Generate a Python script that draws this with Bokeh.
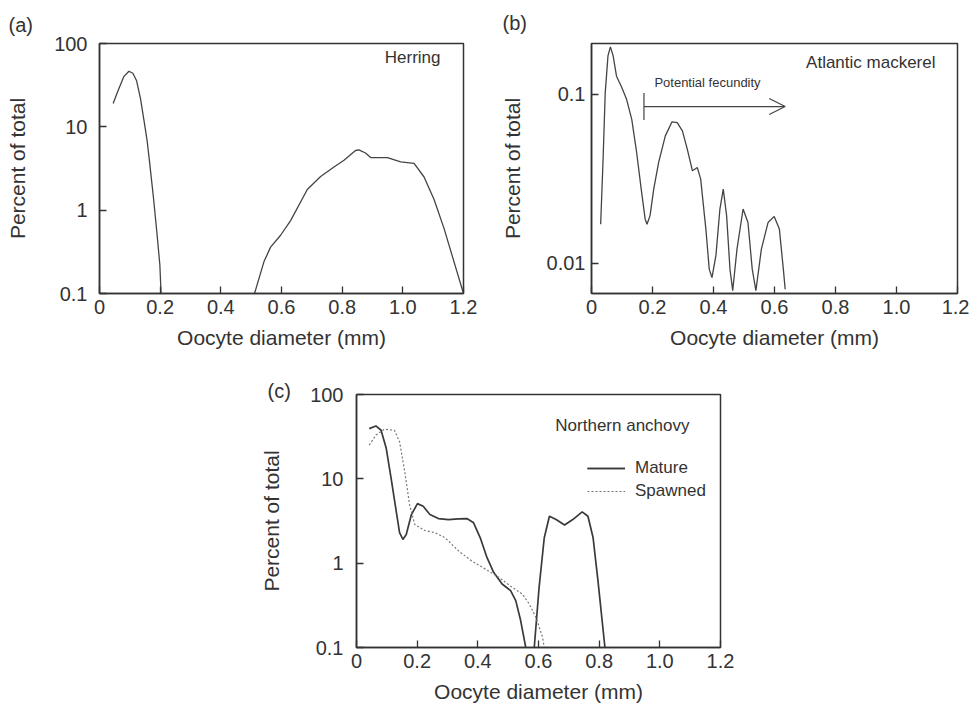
from bokeh.plotting import figure
from bokeh.models import (Label, Arrow, OpenHead, TeeHead, FixedTicker, Range1d,
                          Legend, LegendItem, Spacer, CustomJSTickFormatter)
from bokeh.layouts import column, row
from bokeh.embed import file_html
from bokeh.resources import INLINE

# ---------------- data ----------------
# (a) Herring
herring_x1 = [0.045, 0.06, 0.08, 0.097, 0.11, 0.122, 0.135, 0.15, 0.157, 0.165, 0.178, 0.19, 0.199, 0.203]
herring_y1 = [19.0, 26.5, 40.0, 46.5, 44.0, 36.0, 22.0, 10.0, 6.8, 3.8, 1.4, 0.5, 0.22, 0.1]
herring_x2 = [0.511, 0.542, 0.564, 0.597, 0.63, 0.685, 0.729, 0.773, 0.806, 0.844, 0.855, 0.877,
              0.894, 0.949, 0.993, 1.037, 1.07, 1.103, 1.136, 1.2]
herring_y2 = [0.1, 0.24, 0.36, 0.5, 0.75, 1.77, 2.53, 3.3, 3.98, 5.2, 5.3, 4.85,
              4.28, 4.28, 3.8, 3.65, 2.5, 1.34, 0.6, 0.1]

# (b) Atlantic mackerel
mack_x = [0.030, 0.038, 0.045, 0.054, 0.062, 0.071, 0.082, 0.099, 0.115, 0.132, 0.148, 0.163,
          0.176, 0.182, 0.192, 0.204, 0.220, 0.242, 0.264, 0.281, 0.298, 0.314, 0.331, 0.347,
          0.358, 0.375, 0.386, 0.395, 0.408, 0.421, 0.432, 0.443, 0.454, 0.463, 0.477, 0.497,
          0.513, 0.527, 0.539, 0.557, 0.579, 0.599, 0.616, 0.629, 0.635]
mack_y = [0.017, 0.0412, 0.102, 0.169, 0.191, 0.169, 0.128, 0.110, 0.0934, 0.0711, 0.0452, 0.0274,
          0.0182, 0.017, 0.0191, 0.0274, 0.0394, 0.0567, 0.0687, 0.068, 0.0607, 0.0473, 0.0352, 0.0368,
          0.0314, 0.0159, 0.0092, 0.0082, 0.0111, 0.0209, 0.0274, 0.0191, 0.0092, 0.00687, 0.0121, 0.0209,
          0.0174, 0.0092, 0.00687, 0.0121, 0.0174, 0.0189, 0.0159, 0.0092, 0.0070]
fecundity_x = [0.172, 0.635]
fecundity_y = 0.0846

# (c) Northern anchovy
mature_x1 = [0.042, 0.064, 0.081, 0.098, 0.114, 0.131, 0.142, 0.153, 0.164, 0.181, 0.201, 0.22,
             0.242, 0.27, 0.303, 0.336, 0.364, 0.386, 0.408, 0.43, 0.452, 0.48, 0.508, 0.525,
             0.541, 0.558]
mature_y1 = [39.4, 42.4, 37.7, 23.0, 10.2, 4.12, 2.3, 1.91, 2.19, 3.77, 5.08, 4.72,
             3.77, 3.38, 3.29, 3.35, 3.38, 3.01, 2.0, 1.17, 0.778, 0.566, 0.472, 0.36,
             0.21, 0.1]
mature_x2 = [0.586, 0.602, 0.619, 0.636, 0.658, 0.686, 0.713, 0.744, 0.763, 0.78, 0.796, 0.819]
mature_y2 = [0.1, 0.518, 2.0, 3.6, 3.29, 2.83, 3.29, 4.06, 3.6, 2.0, 0.62, 0.1]
spawned_x = [0.042, 0.064, 0.092, 0.125, 0.142, 0.159, 0.175, 0.192, 0.225, 0.259, 0.292, 0.336,
             0.38, 0.425, 0.469, 0.513, 0.547, 0.569, 0.591, 0.613, 0.619]
spawned_y = [25.1, 33.0, 38.7, 37.7, 27.5, 12.2, 4.94, 2.88, 2.44, 2.3, 2.0, 1.4,
             1.06, 0.85, 0.68, 0.518, 0.43, 0.33, 0.23, 0.134, 0.1]

x_ticks = [0, 0.2, 0.4, 0.6, 0.8, 1.0, 1.2]
y_ticks_ac = [0.1, 1, 10, 100]
y_ticks_b = [0.01, 0.1]

INK = "#333333"
LINE = "#444444"
FONT = "Liberation Sans"


def make_fig(w, h, left, right, top, bottom, y0, y1, yticks, ylabel_standoff, ytick_standoff):
    p = figure(width=w, height=h, x_range=Range1d(0, 1.2), y_range=Range1d(y0, y1),
               y_axis_type="log", output_backend="svg", toolbar_location=None,
               min_border_left=left, min_border_right=right, min_border_top=top,
               min_border_bottom=bottom, background_fill_color="white",
               border_fill_color="white")
    p.grid.visible = False
    p.outline_line_color = INK
    p.outline_line_width = 1.5
    p.xaxis.ticker = FixedTicker(ticks=x_ticks, minor_ticks=[])
    p.xaxis.formatter = CustomJSTickFormatter(code="return tick == 0 ? '0' : tick.toFixed(1);")
    p.yaxis.ticker = FixedTicker(ticks=yticks, minor_ticks=[])
    p.yaxis.formatter = CustomJSTickFormatter(code="return tick.toString();")
    for ax in (p.xaxis[0], p.yaxis[0]):
        ax.axis_line_color = INK
        ax.axis_line_width = 1.5
        ax.major_tick_in = 7
        ax.major_tick_out = 0
        ax.major_tick_line_color = INK
        ax.major_tick_line_width = 1.3
        ax.minor_tick_line_color = None
        ax.major_label_text_font = FONT
        ax.major_label_text_font_size = "20px"
        ax.major_label_text_color = INK
        ax.axis_label_text_font = FONT
        ax.axis_label_text_font_size = "21px"
        ax.axis_label_text_font_style = "normal"
        ax.axis_label_text_color = INK
    p.xaxis.axis_label = "Oocyte diameter (mm)"
    p.yaxis.axis_label = "Percent of total"
    p.xaxis.major_label_standoff = 6
    p.xaxis.axis_label_standoff = 9
    p.yaxis.major_label_standoff = ytick_standoff
    p.yaxis.axis_label_standoff = ylabel_standoff
    p.title.text_font = FONT
    p.title.text_font_size = "20px"
    p.title.text_font_style = "normal"
    p.title.text_color = INK
    p.title.align = "left"
    return p


def text(p, s, x, y, size, align="left"):
    p.add_layout(Label(x=x, y=y, x_units="screen", y_units="screen", text=s,
                       text_font=FONT, text_font_size=size, text_color=INK,
                       text_align=align, text_baseline="middle"))


TOP, BOTTOM = 41, 67

# ---------- (a) ----------
pa = make_fig(480, 360, 99, 17, TOP, BOTTOM, 0.1, 100, y_ticks_ac, 22, 12)
pa.title.text = "(a)"
pa.title.offset = -91
pa.title.standoff = 15
pa.line(herring_x1, herring_y1, line_color=LINE, line_width=1.3)
pa.line(herring_x2, herring_y2, line_color=LINE, line_width=1.3)
fa_w, fa_h = 480 - 99 - 17, 360 - TOP - BOTTOM
text(pa, "Herring", fa_w - 23, fa_h - 16, "17px", "right")

# ---------- (b) ----------
pb = make_fig(489, 360, 111, 12, TOP, BOTTOM, 0.0066, 0.2, y_ticks_b, 20, 6)
pb.title.text = "(b)"
pb.title.offset = -89
pb.title.standoff = 19
pb.line(mack_x, mack_y, line_color=LINE, line_width=1.3)
fb_w, fb_h = 489 - 111 - 12, 360 - TOP - BOTTOM
pb.add_layout(Arrow(x_start=fecundity_x[0], x_end=fecundity_x[1], y_start=fecundity_y, y_end=fecundity_y,
                    line_color=LINE, line_width=1.2,
                    start=TeeHead(size=27, line_color=LINE, line_width=1.2),
                    end=OpenHead(size=16, line_color=LINE, line_width=1.2)))
text(pb, "Potential fecundity", 116, fb_h - 41, "13px", "center")
text(pb, "Atlantic mackerel", fb_w - 22, fb_h - 21, "17px", "right")

# ---------- (c) ----------
pc = make_fig(500, 349, 106, 30, 34, 62, 0.1, 100, y_ticks_ac, 24, 13)
pc.title.text = "(c)"
pc.title.offset = -89
pc.title.standoff = -14
r_m1 = pc.line(mature_x1, mature_y1, line_color="#3a3a3a", line_width=1.7)
r_m2 = pc.line(mature_x2, mature_y2, line_color="#3a3a3a", line_width=1.7)
r_s = pc.line(spawned_x, spawned_y, line_color="#777777", line_width=1.2, line_dash="2 2")
fc_w, fc_h = 500 - 106 - 30, 349 - 34 - 62
legend = Legend(items=[LegendItem(label="Mature", renderers=[r_m1, r_m2]),
                       LegendItem(label="Spawned", renderers=[r_s])],
                location=(231, 146), padding=0, margin=0, spacing=3,
                glyph_height=20, glyph_width=38, label_height=20, label_standoff=10,
                label_text_font=FONT, label_text_font_size="17px", label_text_color=INK,
                border_line_alpha=0, background_fill_alpha=0)
pc.add_layout(legend)
text(pc, "Northern anchovy", fc_w - 31, fc_h - 31, "17px", "right")

layout = column(row(pa, pb), row(Spacer(width=250, height=349), pc))
open("out.html", "w").write(file_html(layout, INLINE))
